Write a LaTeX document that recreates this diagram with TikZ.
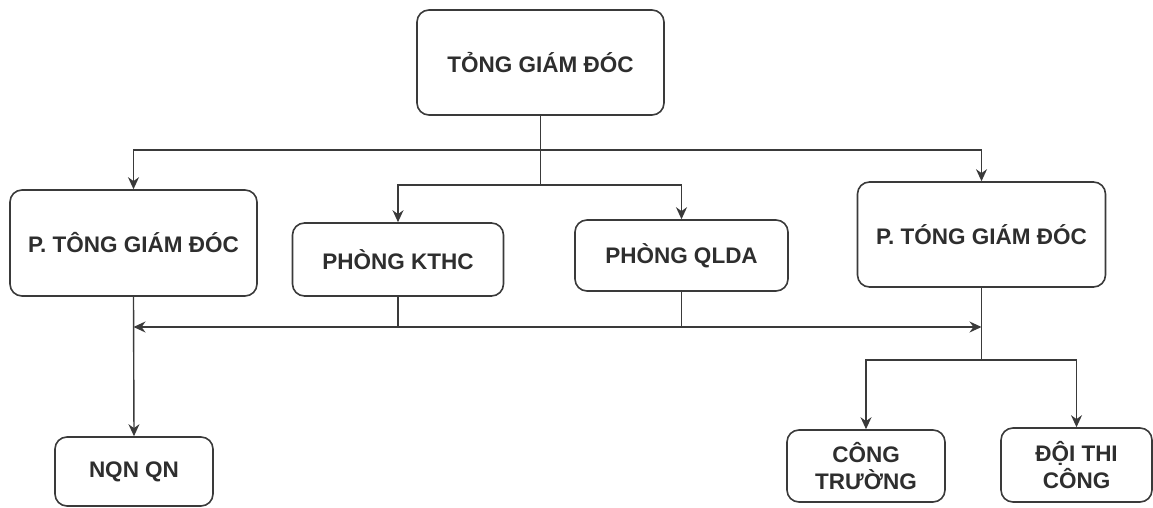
\documentclass[tikz,border=0pt]{standalone}
\usepackage{fontspec}
\setmainfont{Liberation Sans}
\usetikzlibrary{arrows.meta,calc}
\definecolor{ink}{HTML}{3A3A3A}
\definecolor{txt}{HTML}{2E2E2E}
\tikzset{
  box/.style={draw=ink, line width=1.6pt, rounded corners=12pt, fill=white,
    align=center, text=txt, font=\bfseries\fontsize{22.5}{27}\selectfont,
    inner sep=0pt, anchor=center},
  conn/.style={draw=ink, line width=1.4pt},
  arr/.style={conn, -{Stealth[length=12pt,width=11pt]}}
}
\begin{document}
\begin{tikzpicture}[x=1pt,y=-1pt]
\useasboundingbox (0,0) rectangle (1153,508);
\node[box, minimum width=247pt, minimum height=105pt] (top) at (540.5,62.5) {TỎNG GIÁM ĐÓC};
\node[box, minimum width=247pt, minimum height=106pt] (pl) at (133.5,243) {P. TÔNG GIÁM ĐÓC};
\node[box, minimum width=211pt, minimum height=73pt] (kthc) at (398,259.5) {PHÒNG KTHC};
\node[box, minimum width=213pt, minimum height=71pt] (qlda) at (681.5,255.5) {PHÒNG QLDA};
\node[box, minimum width=248pt, minimum height=105pt] (pr) at (981.5,234.5) {P. TÓNG GIÁM ĐÓC};
\node[box, minimum width=158pt, minimum height=69pt] (nqn) at (134,471.5) {NQN QN};
\node[box, minimum width=158pt, minimum height=72pt] (ct) at (866,466) {CÔNG\\TRƯỜNG};
\node[box, minimum width=151pt, minimum height=74pt] (doi) at (1076.5,465) {ĐỘI THI\\CÔNG};
% coordinates for buses
\coordinate (b1) at (540.5,150);
\coordinate (b2) at (540.5,185);
\coordinate (b3l) at (133.5,327);
\coordinate (b3r) at (981.5,327);
\coordinate (b4) at (981.5,360);
% top bus
\draw[conn] (top.south) -- (b2);
\draw[arr] (b1) -| (pl.north);
\draw[arr] (b1) -| (pr.north);
\draw[arr] (b2) -| (kthc.north);
\draw[arr] (b2) -| (qlda.north);
% middle bus
\draw[arr] (kthc.south) |- (b3l);
\draw[arr] (qlda.south) |- (b3r);
\draw[conn] (kthc.south |- b3l) -- (qlda.south |- b3l);
\draw[arr] (pl.south) -- (nqn.north);
% right side
\draw[conn] (pr.south) -- (b4);
\draw[arr] (b4) -| (ct.north);
\draw[arr] (b4) -| (doi.north);
\end{tikzpicture}
\end{document}
